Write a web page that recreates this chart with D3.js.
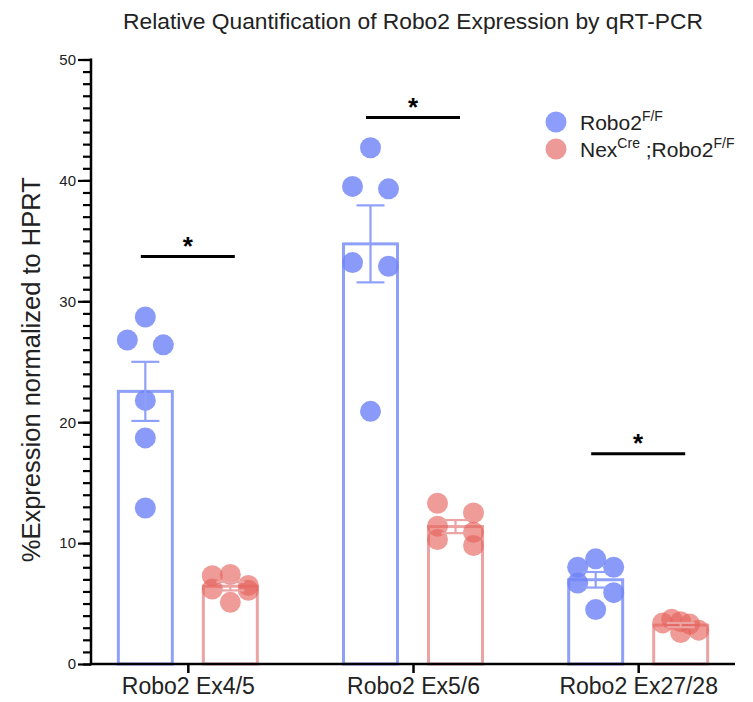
<!DOCTYPE html>
<html>
<head>
<meta charset="utf-8">
<script src="https://cdn.jsdelivr.net/npm/d3@7"></script>
<style>
  body { margin: 0; background: #fff; }
  text { font-family: "Liberation Sans", Arial, sans-serif; }
</style>
</head>
<body>
<svg id="chart" width="753" height="702"></svg>
<script>
var categories = ["Robo2 Ex4/5", "Robo2 Ex5/6", "Robo2 Ex27/28"];
// one array of replicate values per category
var robo2FF = [
    [28.7, 26.8, 26.4, 21.8, 18.7, 12.9],
    [42.7, 39.5, 39.3, 33.2, 32.9, 20.9],
    [8.0, 8.7, 8.0, 6.7, 5.9, 4.5]
];
var nexCre = [
    [7.3, 7.4, 6.5, 6.2, 6.1, 5.1],
    [13.3, 12.5, 11.4, 10.9, 10.3, 9.8],
    [3.4, 3.7, 3.5, 3.3, 2.8, 2.6]
];
var sigLevel = [33.7, 45.2, 17.4];
var sigLabel = ["*", "*", "*"];
var yTicks = [0, 10, 20, 30, 40, 50];

var width = 753, height = 702;
var margin = { top: 59.5, right: 18, bottom: 38, left: 91 };
var svg = d3.select("#chart");

var x = d3.scalePoint()
    .domain(categories)
    .range([margin.left, width - margin.right])
    .padding(0.43);

var xs = d3.scaleBand()
    .domain([0, 1])
    .range([-85, 85])
    .paddingInner(0.365)
    .paddingOuter(0.1825);

var y = d3.scaleLinear()
    .domain([0, 50])
    .range([height - margin.bottom, margin.top]);

var series = [
    { values: robo2FF, stroke: "#8fa0f8", fill: "rgba(112,132,246,0.82)" },
    { values: nexCre, stroke: "#eba3a3", fill: "rgba(230,98,92,0.64)" }
];

// group nearby values and spread them sideways, roughly like Prism does
function swarm(vals) {
    var idx = vals.map((v, i) => i).sort((a, b) => vals[b] - vals[a]);
    var off = [], cluster = [];
    function flush() {
        cluster.sort((a, b) => a - b);
        var n = cluster.length;
        cluster.forEach((k, j) => { off[k] = n === 1 ? 0 : -18 + 36 * j / (n - 1); });
        cluster = [];
    }
    idx.forEach(function(i) {
        if (cluster.length && y(vals[i]) - y(vals[cluster[0]]) > 12) flush();
        cluster.push(i);
    });
    flush();
    return off;
}

// title
svg.append("text")
    .attr("x", (margin.left + width - margin.right) / 2)
    .attr("y", 29)
    .attr("text-anchor", "middle")
    .attr("font-size", 22.8)
    .attr("fill", "#222")
    .text("Relative Quantification of Robo2 Expression by qRT-PCR");

// y label
svg.append("text")
    .attr("transform", `translate(40,${(margin.top + height - margin.bottom) / 2 + 8}) rotate(-90)`)
    .attr("text-anchor", "middle")
    .attr("font-size", 25.5)
    .attr("fill", "#222")
    .text("%Expression normalized to HPRT");

// bars, error bars, points
series.forEach(function(s, si) {
    var g = svg.append("g");
    s.values.forEach(function(vals, ci) {
        var cx = x(categories[ci]) + xs(si) + xs.bandwidth() / 2;
        var m = d3.mean(vals);
        var sem = d3.deviation(vals) / Math.sqrt(vals.length);

        g.append("rect")
            .attr("x", x(categories[ci]) + xs(si))
            .attr("y", y(m))
            .attr("width", xs.bandwidth())
            .attr("height", y(0) - y(m))
            .attr("fill", "none")
            .attr("stroke", s.stroke)
            .attr("stroke-width", 3);

        var off = swarm(vals);
        g.selectAll(null)
            .data(vals)
            .join("circle")
            .attr("cx", (d, i) => cx + off[i])
            .attr("cy", d => y(d))
            .attr("r", 10.5)
            .attr("fill", s.fill);

        var eb = g.append("g").attr("stroke", s.stroke).attr("stroke-width", 2.2);
        eb.append("line").attr("x1", cx).attr("x2", cx).attr("y1", y(m - sem)).attr("y2", y(m + sem));
        [m - sem, m + sem].forEach(function(v) {
            eb.append("line").attr("x1", cx - 14).attr("x2", cx + 14).attr("y1", y(v)).attr("y2", y(v));
        });
    });
});

// significance bars
var sig = svg.append("g");
categories.forEach(function(c, i) {
    sig.append("line")
        .attr("x1", x(c) - 47).attr("x2", x(c) + 47)
        .attr("y1", y(sigLevel[i])).attr("y2", y(sigLevel[i]))
        .attr("stroke", "#000").attr("stroke-width", 3);
    sig.append("text")
        .attr("x", x(c))
        .attr("y", y(sigLevel[i]) - 2)
        .attr("text-anchor", "middle")
        .attr("font-size", 26)
        .attr("font-weight", "bold")
        .text(sigLabel[i]);
});

// y axis with minor ticks
var yAxis = g => g
    .attr("transform", `translate(${margin.left},0)`)
    .call(d3.axisLeft(y).tickValues(d3.range(0, 51, 1)).tickSize(8).tickFormat(""))
    .call(g => g.select(".domain").remove())
    .call(g => g.selectAll(".tick line").attr("stroke-width", 2.2))
    .call(g => g.append("g")
        .call(d3.axisLeft(y).tickValues(yTicks).tickSize(13).tickPadding(2))
        .call(g => g.select(".domain").remove())
        .call(g => g.selectAll(".tick line").attr("stroke-width", 2.2))
        .call(g => g.selectAll(".tick text").attr("font-size", 15).attr("fill", "#222")
            .attr("font-family", "'Liberation Sans', Arial, sans-serif")))
    .call(g => g.append("line")
        .attr("y1", y(0) + 1.25).attr("y2", y(50) - 1)
        .attr("stroke", "#000").attr("stroke-width", 2.5));

var xAxis = g => g
    .attr("transform", `translate(0,${y(0)})`)
    .call(d3.axisBottom(x).tickSize(9).tickPadding(5))
    .call(g => g.select(".domain").remove())
    .call(g => g.selectAll(".tick line").attr("stroke-width", 2.5))
    .call(g => g.selectAll(".tick text").attr("font-size", 23).attr("fill", "#222")
        .attr("font-family", "'Liberation Sans', Arial, sans-serif"))
    .call(g => g.append("line")
        .attr("x1", margin.left).attr("x2", width - margin.right)
        .attr("stroke", "#000").attr("stroke-width", 2.5));

svg.append("g").call(yAxis);
svg.append("g").call(xAxis);

// legend
var legend = svg.append("g").attr("transform", "translate(556,122)");
var legendItems = [
    { fill: "rgba(120,140,250,0.85)", parts: [["Robo2", 0], ["F/F", 1]] },
    { fill: "rgba(228,110,108,0.7)", parts: [["Nex", 0], ["Cre", 1], [" ;Robo2", 0], ["F/F", 1]] }
];
legendItems.forEach(function(it, i) {
    var row = legend.append("g").attr("transform", `translate(0,${i * 27})`);
    row.append("circle").attr("r", 10.5).attr("fill", it.fill);
    var t = row.append("text").attr("x", 24).attr("y", 8).attr("font-size", 21).attr("fill", "#222");
    var shift = 0;
    it.parts.forEach(function(p) {
        var target = p[1] ? -9 : 0;
        t.append("tspan").attr("dy", target - shift).attr("font-size", p[1] ? 14 : 21).text(p[0]);
        shift = target;
    });
});
</script>
</body>
</html>
